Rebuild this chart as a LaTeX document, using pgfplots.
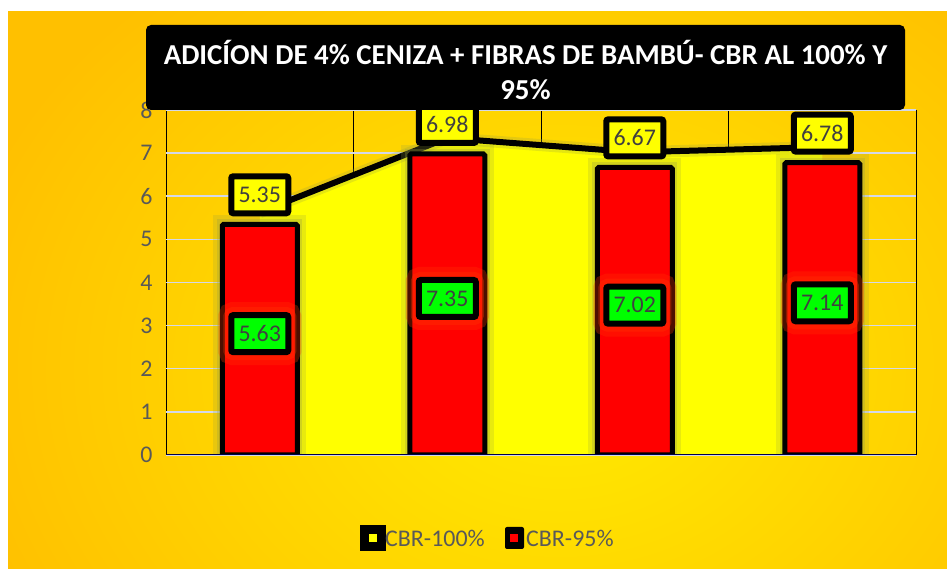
\documentclass[border=0pt]{standalone}
\usepackage{fontspec}
\setmainfont{Carlito}
\usepackage{pgfplots}
\pgfplotsset{compat=1.18}
\definecolor{bgout}{HTML}{FFC000}
\definecolor{bgin}{HTML}{FFEC00}
\definecolor{gridc}{HTML}{D4D8E8}
\definecolor{txtgray}{HTML}{595959}
\definecolor{lblgray}{HTML}{404040}
\definecolor{barred}{HTML}{FF0000}
\definecolor{areay}{HTML}{FFFF00}
\definecolor{lblgreen}{HTML}{00FF00}
\definecolor{glow}{HTML}{9AA040}
\definecolor{redglow}{HTML}{FF3300}
\begin{document}
\begin{tikzpicture}[x=1bp,y=1bp]
\fill[white] (0,0) rectangle (947,569);
\begin{scope}
\clip (8,0) rectangle (947,557);
\shade[inner color=bgin, outer color=bgout] (-60,-300) rectangle (1180,700);
\end{scope}
\begin{axis}[at={(166bp,114bp)}, anchor=south west, scale only axis,
  width=750bp, height=345bp, xmin=0.5, xmax=4.5, ymin=0, ymax=8,
  xtick={0.5,1.5,2.5,3.5,4.5}, xticklabels={}, ytick={0,...,8},
  major tick length=0, xmajorgrids, ymajorgrids,
  x grid style={black, line width=1bp},
  y grid style={gridc, line width=1.5bp},
  axis line style={draw=none},
  /pgf/number format/assume math mode=true,
  yticklabel style={font=\fontsize{24}{28}\selectfont, text=txtgray, xshift=-10bp},
]
\addplot[fill=areay, draw=none] coordinates {(1,5.63) (2,7.35) (3,7.02) (4,7.14)} \closedcycle;
\addplot[draw=glow, draw opacity=0.25, line width=12bp, mark=none] coordinates {(1,5.63) (2,7.35) (3,7.02) (4,7.14)};
\addplot[black, line width=6bp, mark=none] coordinates {(1,5.63) (2,7.35) (3,7.02) (4,7.14)};
\addplot[ybar, bar shift=0pt, bar width=75bp, draw=glow, draw opacity=0.22, line width=18bp, fill=none] coordinates {(1,5.35) (2,6.98) (3,6.67) (4,6.78)};
\addplot[ybar, bar shift=0pt, bar width=75bp, draw=glow, draw opacity=0.3, line width=10bp, fill=none] coordinates {(1,5.35) (2,6.98) (3,6.67) (4,6.78)};
\addplot[ybar, bar shift=0pt, bar width=75bp, fill=barred, draw=black, line width=5bp, rounded corners=1.5bp] coordinates {(1,5.35) (2,6.98) (3,6.67) (4,6.78)};
\draw[black!70!blue, line width=1bp] (axis cs:0.5,0) -- (axis cs:4.5,0);
\addplot[draw=none, mark=none, nodes near coords, point meta=explicit symbolic,
  every node near coord/.append style={anchor=center, yshift=6bp, fill=lblgreen, draw=black, line width=6bp, rounded corners=2bp,
    minimum width=57bp, minimum height=37bp, inner sep=1bp, text=lblgray, font=\fontsize{24}{28}\selectfont,
    preaction={draw=redglow, draw opacity=0.3, line width=26bp},
    preaction={draw=redglow, draw opacity=0.35, line width=16bp}}]
  table[meta=lab] {
x y lab
1 2.675 5.63
2 3.49 7.35
3 3.335 7.02
4 3.39 7.14
};
\addplot[draw=none, mark=none, nodes near coords, point meta=explicit symbolic,
  every node near coord/.append style={anchor=south, yshift=8bp, fill=areay, draw=black, line width=6bp, rounded corners=2bp,
    minimum width=57bp, minimum height=37bp, inner sep=1bp, text=lblgray, font=\fontsize{24}{28}\selectfont}]
  table[meta=lab] {
x y lab
1 5.35 5.35
2 6.98 6.98
3 6.67 6.67
4 6.78 6.78
};
\end{axis}
% title
\fill[black, rounded corners=5bp] (146,459) rectangle (905,544);
\node[text=white, font=\fontsize{29}{36}\selectfont\bfseries, align=center] at (525.5,499)
  {ADICÍON DE 4\% CENIZA + FIBRAS DE BAMBÚ- CBR AL 100\% Y\\95\%};
% legend
\fill[black] (360,18) rectangle (386,44);
\fill[areay] (369,27) rectangle (377,35);
\node[anchor=west, inner sep=0pt, text=txtgray, font=\fontsize{24}{28}\selectfont] at (385,31) {CBR-100\%};
\fill[black, rounded corners=2bp] (505,20) rectangle (524,42);
\fill[barred] (510,27) rectangle (518,35);
\node[anchor=west, inner sep=0pt, text=txtgray, font=\fontsize{24}{28}\selectfont] at (526,31) {CBR-95\%};
\end{tikzpicture}
\end{document}
